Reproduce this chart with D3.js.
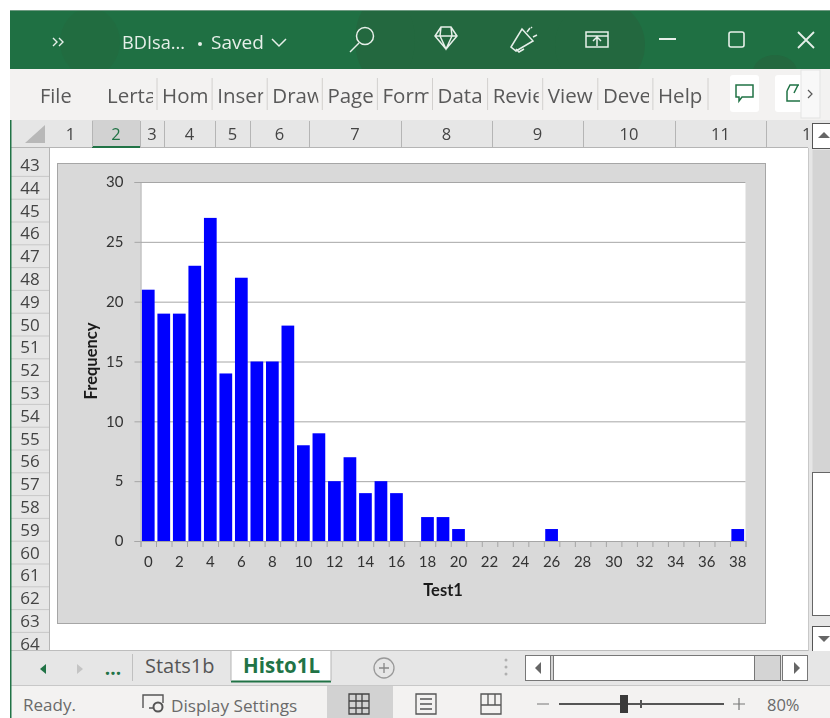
<!DOCTYPE html>
<meta charset="utf-8" />
<html>
    <head>
        <script src="https://d3js.org/d3.v7.min.js"></script>
        <style>
            html, body { margin: 0; padding: 0; background: white; }
            svg { display: block; filter: blur(0.5px); }
            text { font-family: "Open Sans", "Noto Sans", sans-serif; }
            .chart text { font-family: Lato, "Open Sans", sans-serif; }
        </style>
    </head>
    <body>
        <svg width="830" height="718"></svg>
    </body>
    <script>
        // Chart data
        var categories = d3.range(0, 39);
        var frequency = [21, 19, 19, 23, 27, 14, 22, 15, 15, 18, 8, 9, 5, 7, 4, 5, 4, 0, 2, 2, 1,
                         0, 0, 0, 0, 0, 1, 0, 0, 0, 0, 0, 0, 0, 0, 0, 0, 0, 1];
        var y_ticks = [0, 5, 10, 15, 20, 25, 30];
        var x_labels = d3.range(0, 39, 2);

        // Excel window text
        var ribbon_tabs = ["Lerta", "Hom", "Inser", "Draw", "Page", "Form", "Data", "Revie", "View", "Deve", "Help"];
        var col_names = ["1", "2", "3", "4", "5", "6", "7", "8", "9", "10", "11", "12"];
        var col_edges = [49, 92, 140, 164, 215, 250, 309, 401, 492, 583, 675, 766, 858];
        var row_names = d3.range(43, 65);

        var svg = d3.select("svg");
        var ink = "#595959";
        var defs = svg.append("defs");

        function rect(p, x, y, w, h, fill, stroke) {
            return p.append("rect").attr("x", x).attr("y", y).attr("width", w).attr("height", h)
                .attr("fill", fill).attr("stroke", stroke || "none");
        }
        function line(p, x1, y1, x2, y2, stroke, sw) {
            return p.append("line").attr("x1", x1).attr("y1", y1).attr("x2", x2).attr("y2", y2)
                .attr("stroke", stroke).attr("stroke-width", sw || 1);
        }
        function label(p, x, y, txt, size, fill, anchor) {
            return p.append("text").attr("x", x).attr("y", y).text(txt)
                .attr("font-size", size).attr("fill", fill).attr("text-anchor", anchor || "start");
        }
        function icon(p, d, stroke, sw) {
            return p.append("path").attr("d", d).attr("fill", "none").attr("stroke", stroke).attr("stroke-width", sw || 1.5);
        }

        // Title bar
        var title = svg.append("g");
        defs.append("clipPath").attr("id", "titleclip").append("rect")
            .attr("x", 10).attr("y", 11).attr("width", 820).attr("height", 58);
        rect(title, 10, 10, 820, 59, "#1f7043");
        var blobs = title.append("g").attr("clip-path", "url(#titleclip)").attr("fill", "#23683f");
        blobs.append("ellipse").attr("cx", 90).attr("cy", 42).attr("rx", 30).attr("ry", 34).attr("opacity", 0.45);
        blobs.append("rect").attr("x", 385).attr("y", 11).attr("width", 215).attr("height", 58);
        blobs.append("ellipse").attr("cx", 385).attr("cy", 40).attr("rx", 30).attr("ry", 45);
        blobs.append("ellipse").attr("cx", 600).attr("cy", 45).attr("rx", 45).attr("ry", 45);
        blobs.append("ellipse").attr("cx", 775).attr("cy", 72).attr("rx", 22).attr("ry", 17);
        line(title, 10, 10.5, 830, 10.5, "#6f9a82");
        var on_green = "#e6efe9";
        icon(title, "M53 38l4 4-4 4M59 38l4 4-4 4", on_green, 1.4);
        label(title, 122, 49, "BDIsa...", 18.2, on_green);
        title.append("circle").attr("cx", 200).attr("cy", 44).attr("r", 2).attr("fill", on_green);
        label(title, 211, 49, "Saved", 19, on_green);
        icon(title, "M272 39l7 7 7-7", on_green);
        title.append("circle").attr("cx", 365).attr("cy", 36).attr("r", 8.5).attr("fill", "none").attr("stroke", on_green).attr("stroke-width", 1.5);
        icon(title, "M359 43l-9 9", on_green);
        icon(title, "M441 27h10l6 9-11 13-11-13zM435 36h22M441 27l-1 9 6 13 6-13-1-9", on_green);
        icon(title, "M511 47l11-18 11 12-17 10zM516 49l3 3 5-3M527 32l3-4M533 37l4-2M531 28l1-1", on_green);
        icon(title, "M586 32h22v15h-22zM586 36h22M597 46v-8M593 41l4-4 4 4", on_green);
        line(title, 659, 39, 676, 39, on_green, 2);
        title.append("rect").attr("x", 729).attr("y", 32).attr("width", 15).attr("height", 15).attr("rx", 2)
            .attr("fill", "none").attr("stroke", on_green).attr("stroke-width", 1.6);
        icon(title, "M798 32l16 16M814 32l-16 16", on_green, 1.8);

        // Ribbon
        var ribbon = svg.append("g");
        rect(ribbon, 10, 69, 820, 51, "#f3f2f1");
        label(ribbon, 40, 103, "File", 20, ink);
        ribbon_tabs.forEach(function(t, i) {
            var left = 107 + i * 55.1;
            defs.append("clipPath").attr("id", "tab" + i).append("rect")
                .attr("x", left - 3).attr("y", 70).attr("width", 49).attr("height", 48);
            label(ribbon, left, 103, t, 20.5, ink).attr("clip-path", "url(#tab" + i + ")");
            line(ribbon, left + 50, 78, left + 50, 110, "#d2d0ce");
        });
        ribbon.append("rect").attr("x", 730).attr("y", 75).attr("width", 29).attr("height", 37).attr("rx", 3).attr("fill", "white");
        icon(ribbon, "M736 85h17v12h-11l-3 4v-4h-3z", "#217346");
        ribbon.append("rect").attr("x", 775).attr("y", 75).attr("width", 40).attr("height", 37).attr("rx", 3).attr("fill", "white");
        icon(ribbon, "M787 91v10h13M787 91l3-6h9M794 93l4-8", "#217346");
        rect(ribbon, 801, 70, 19, 48, "#f8f8f8", "#e3e3e3");
        icon(ribbon, "M808 90l4 4-4 4", ink, 1.2);

        // Column headers
        var head = svg.append("g");
        rect(head, 11, 120, 797, 28, "#e6e6e6");
        rect(head, 92, 120, 48, 27, "#d2d2d2");
        line(head, 92, 147, 140, 147, "#217346", 2);
        line(head, 11, 147.5, 92, 147.5, "#b5b5b5");
        line(head, 140, 147.5, 808, 147.5, "#b5b5b5");
        head.append("path").attr("d", "M25 143L45 125V143Z").attr("fill", "#b8b8b8");
        col_names.forEach(function(c, i) {
            var left = col_edges[i], right = col_edges[i + 1];
            if (i > 0) line(head, left + 0.5, 121, left + 0.5, 147, "#b5b5b5");
            if (i < 11) label(head, (left + right) / 2, 140, c, 16.5, i == 1 ? "#217346" : "#444", "middle");
        });
        label(head, 802, 140, "1", 16.5, "#444", "start");

        // Sheet + row headers
        rect(svg, 49, 148, 759, 503, "white");
        var rows = svg.append("g");
        rect(rows, 11, 148, 38, 503, "#e6e6e6");
        line(rows, 49.5, 148, 49.5, 651, "#b5b5b5");
        defs.append("clipPath").attr("id", "rowclip").append("rect").attr("x", 11).attr("y", 154).attr("width", 38).attr("height", 497);
        var rows_in = rows.append("g").attr("clip-path", "url(#rowclip)");
        row_names.forEach(function(r, i) {
            var cy = 165 + i * 22.8;
            line(rows_in, 11, cy + 11.4, 49, cy + 11.4, "#c8c8c8");
            label(rows_in, 30, cy + 6, r, 17, "#444", "middle");
        });

        // Chart area
        var chart = svg.append("g").attr("class", "chart");
        rect(chart, 57.5, 163.5, 708, 460, "#d9d9d9", "#a6a6a6");

        var margin = {top: 182, left: 140.5};
        var width = 605, height = 359;
        var g = chart.append("g").attr("transform", "translate(" + margin.left + "," + margin.top + ")");
        rect(g, 0, 0, width, height, "white");

        var x = d3.scaleBand().domain(categories).range([0, width]).paddingInner(0.18).paddingOuter(0.09);
        var x_edges = d3.scaleLinear().domain([0, categories.length]).range([0, width]);
        var y = d3.scaleLinear().domain([0, 30]).range([height, 0]);

        var y_axis = g.append("g").call(d3.axisLeft(y).tickValues(y_ticks).tickSize(-width).tickPadding(17));
        y_axis.select(".domain").remove();
        y_axis.selectAll("line").attr("stroke", "#a6a6a6");
        y_axis.selectAll("text").attr("font-size", 15).attr("fill", "#333");
        // little outer tick left of the plot
        g.append("g").call(d3.axisLeft(y).tickValues(y_ticks).tickSize(6).tickFormat(""))
            .selectAll("line").attr("stroke", "#a6a6a6");
        g.selectAll(".domain").attr("stroke", "#a6a6a6");

        g.selectAll(".bar").data(frequency).enter().append("rect").attr("class", "bar")
            .attr("x", function(d, i) { return x(categories[i]); })
            .attr("y", function(d) { return y(d); })
            .attr("width", x.bandwidth())
            .attr("height", function(d) { return height - y(d); })
            .attr("fill", "#0000ff");

        var x_ticks = g.append("g").attr("transform", "translate(0," + height + ")")
            .call(d3.axisBottom(x_edges).tickValues(d3.range(0, categories.length + 1)).tickSize(6).tickFormat(""));
        x_ticks.selectAll("line").attr("stroke", "#a6a6a6");
        x_ticks.select(".domain").attr("stroke", "#a6a6a6");

        var x_axis = g.append("g").attr("transform", "translate(0," + height + ")")
            .call(d3.axisBottom(x).tickValues(x_labels).tickSize(0).tickPadding(15));
        x_axis.select(".domain").remove();
        x_axis.selectAll("text").attr("font-size", 15).attr("fill", "#333");

        label(chart, 443, 596, "Test1", 16.5, "#1a1a1a", "middle").attr("font-weight", "bold");
        label(chart, 0, 0, "Frequency", 16.5, "#1a1a1a", "middle").attr("font-weight", "bold")
            .attr("transform", "translate(97,361) rotate(-90)");

        // Vertical scrollbar
        var vbar = svg.append("g");
        rect(vbar, 808, 120, 22, 531, "#e6e6e6");
        line(vbar, 808.5, 148, 808.5, 651, "#c8c8c8");
        rect(vbar, 812.5, 123.5, 18, 25, "white", "#555");
        vbar.append("path").attr("d", "M818 138l6-6 6 6Z").attr("fill", "#666");
        rect(vbar, 812.5, 150, 18, 322, "#d4d4d4");
        rect(vbar, 812.5, 472.5, 18, 143, "white", "#666");
        rect(vbar, 812.5, 626.5, 18, 25, "white", "#555");
        vbar.append("path").attr("d", "M818 636l6 6 6-6Z").attr("fill", "#666");

        // Sheet tabs
        var tabs = svg.append("g");
        rect(tabs, 11, 651, 797, 35, "#e6e6e6");
        rect(tabs, 808, 651, 22, 35, "#e6e6e6");
        line(tabs, 11, 650.5, 808, 650.5, "#bdbdbd");
        tabs.append("path").attr("d", "M46 664v10l-6-5Z").attr("fill", "#217346");
        tabs.append("path").attr("d", "M77 664v10l6-5Z").attr("fill", "#c4c4c4");
        label(tabs, 113, 675, "...", 19, "#217346", "middle").attr("font-weight", "bold");
        line(tabs, 132.5, 654, 132.5, 681, "#c0c0c0");
        label(tabs, 145, 673, "Stats1b", 20, "#555");
        rect(tabs, 231, 651, 100, 31, "white");
        line(tabs, 231, 681.5, 331, 681.5, "#217346", 2);
        line(tabs, 231, 651, 231, 681, "#b5b5b5");
        line(tabs, 331, 651, 331, 681, "#b5b5b5");
        label(tabs, 243, 673, "Histo1L", 20.5, "#217346").attr("font-weight", "bold");
        tabs.append("circle").attr("cx", 384).attr("cy", 668).attr("r", 10).attr("fill", "none").attr("stroke", "#999").attr("stroke-width", 1.3);
        icon(tabs, "M379 668h10M384 663v10", "#888", 1.3);
        [660, 667, 674].forEach(function(cy) {
            tabs.append("circle").attr("cx", 506).attr("cy", cy).attr("r", 1.5).attr("fill", "#b0b0b0");
        });
        rect(tabs, 525.5, 655.5, 255, 25, "#d4d4d4", "#777");
        rect(tabs, 525.5, 655.5, 25, 25, "white", "#777");
        rect(tabs, 553.5, 655.5, 201, 25, "white", "#777");
        tabs.append("path").attr("d", "M541 662v12l-6-6Z").attr("fill", "#666");
        rect(tabs, 782.5, 655.5, 25, 25, "white", "#777");
        tabs.append("path").attr("d", "M794 662v12l6-6Z").attr("fill", "#666");

        // Status bar
        var status_bar = svg.append("g");
        rect(status_bar, 11, 686, 819, 32, "#f3f2f1");
        line(status_bar, 11, 685.5, 830, 685.5, "#c8c8c8");
        label(status_bar, 23, 711, "Ready.", 17, "#6a6a6a");
        icon(status_bar, "M143 708v-13h20v8M149 708h5", "#555", 1.4);
        status_bar.append("circle").attr("cx", 158).attr("cy", 707).attr("r", 4.5).attr("fill", "none").attr("stroke", "#555").attr("stroke-width", 2);
        label(status_bar, 171, 712, "Display Settings", 17.2, "#6a6a6a");
        rect(status_bar, 327, 686, 66, 32, "#d2d2d2");
        icon(status_bar, "M349 694h20v20h-20zM349 701h20M349 708h20M356 694v20M362 694v20", "#444", 1.3);
        icon(status_bar, "M416 694h20v20h-20zM420 699h12M420 704h12M420 709h12", "#555", 1.3);
        icon(status_bar, "M481 694h20v20h-20zM481 705h20M488 694v11M495 694v11", "#555", 1.3);
        line(status_bar, 537, 704, 549, 704, "#777");
        line(status_bar, 559, 704, 724, 704, "#555", 2);
        rect(status_bar, 620, 695, 8, 18, "#3a3a3a");
        line(status_bar, 641, 700, 641, 708, "#555", 2);
        icon(status_bar, "M733 704h12M739 698v12", "#777", 1.2);
        label(status_bar, 767, 711, "80%", 16.5, "#6a6a6a");

        // Green sliver on the left edge
        rect(svg, 10, 120, 1.5, 598, "#217346");
    </script>
</html>
